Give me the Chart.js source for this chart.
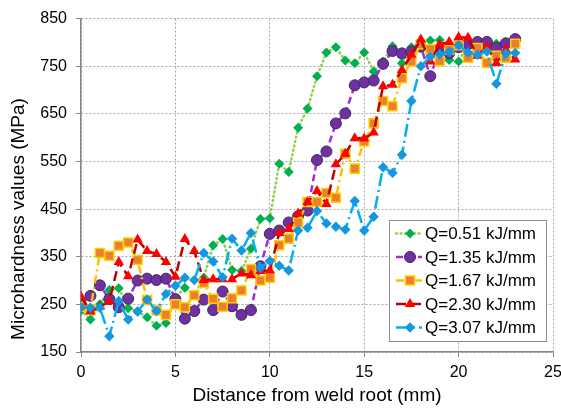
<!DOCTYPE html>
<html>
<head>
<meta charset="utf-8">
<script src="https://cdn.jsdelivr.net/npm/chart.js@4/dist/chart.umd.min.js"></script>
<style>
  html, body { margin: 0; padding: 0; background: #fff; }
  #wrap { width: 561px; height: 409px; }
</style>
</head>
<body>
<div id="wrap"><canvas id="hardnessChart" width="561" height="409"></canvas></div>
<script>
// distance from weld root (mm)
const distance = [0, 0.5, 1, 1.5, 2, 2.5, 3, 3.5, 4, 4.5, 5, 5.5, 6, 6.5, 7, 7.5, 8, 8.5, 9, 9.5,
  10, 10.5, 11, 11.5, 12, 12.5, 13, 13.5, 14, 14.5, 15, 15.5, 16, 16.5, 17, 17.5, 18, 18.5, 19, 19.5,
  20, 20.5, 21, 21.5, 22, 22.5, 23];

// microhardness (MPa) for each heat input
const q051 = [237, 218, 250, 280, 284, 242, 235, 223, 205, 211, 264, 285, 270, 306, 374, 387, 322, 320, 367, 429,
  431, 545, 528, 621, 661, 729, 779, 790, 762, 756, 779, 739, 760, 792, 756, 790, 801, 804, 805, 763,
  760, 798, 795, 790, 797, 801, 800];
const q135 = [250, 268, 290, 261, 244, 262, 300, 304, 301, 304, 261, 220, 236, 260, 238, 277, 246, 228, 238, 330,
  398, 405, 422, 435, 447, 553, 571, 630, 651, 710, 716, 720, 755, 782, 777, 781, 791, 729, 785, 777,
  790, 796, 801, 801, 789, 798, 807];
const q167 = [245, 240, 358, 352, 373, 380, 343, 259, 237, 228, 250, 244, 269, 295, 262, 245, 263, 279, 324, 300,
  306, 374, 388, 422, 465, 465, 484, 474, 566, 535, 592, 630, 677, 666, 725, 760, 796, 786, 761, 785,
  794, 768, 788, 757, 772, 768, 797];
const q230 = [266, 235, 245, 256, 339, 309, 386, 362, 356, 339, 308, 387, 362, 301, 303, 303, 303, 315, 311, 320,
  321, 400, 408, 441, 465, 488, 461, 544, 566, 599, 598, 611, 708, 711, 742, 774, 806, 760, 796, 801,
  811, 810, 772, 791, 757, 785, 764];
const q307 = [244, 243, 243, 183, 257, 218, 235, 260, 236, 272, 289, 306, 301, 358, 340, 307, 388, 363, 400, 327,
  341, 331, 321, 405, 411, 446, 420, 413, 407, 467, 405, 434, 538, 526, 564, 677, 750, 770, 775, 780,
  794, 779, 774, 781, 713, 777, 778];

const seriesNames = ['Q=0.51 kJ/mm', 'Q=1.35 kJ/mm', 'Q=1.67 kJ/mm', 'Q=2.30 kJ/mm', 'Q=3.07 kJ/mm'];
const xTicks = [0, 5, 10, 15, 20, 25];
const yTicks = [150, 250, 350, 450, 550, 650, 750, 850];
const xTitle = 'Distance from weld root (mm)';
const yTitle = 'Microhardness values (MPa)';

const FONT = '"Liberation Sans", Arial, sans-serif';

function pts(vals) {
    return vals.map((v, i) => ({ x: distance[i], y: v }));
}

const styles = [
    { line: '#92D050', dash: [1, 3.5], cap: 'round', fill: '#00B050', stroke: '#00B050', shape: 'rectRot', r: 5, bw: 0 },
    { line: '#9B30D9', dash: [7, 4], cap: 'butt', fill: '#7030A0', stroke: '#3D2A5C', shape: 'circle', r: 5.5, bw: 1 },
    { line: '#FFC000', dash: [8, 4, 2, 4], cap: 'butt', fill: '#ED7D31', stroke: '#FFD000', shape: 'rect', r: 6.4, bw: 1.5 },
    { line: '#C00000', dash: [10, 5], cap: 'butt', fill: '#FF0000', stroke: '#FF0000', shape: 'triangle', r: 6, bw: 0 },
    { line: '#00B0F0', dash: [13, 4, 2, 4], cap: 'butt', fill: '#1597DE', stroke: '#1597DE', shape: 'rectRot', r: 5.2, bw: 0 }
];

const seriesValues = [q051, q135, q167, q230, q307];

const datasets = seriesValues.map((vals, i) => ({
    label: seriesNames[i],
    data: pts(vals),
    borderColor: styles[i].line,
    borderWidth: 2.5,
    borderDash: styles[i].dash,
    borderCapStyle: styles[i].cap,
    backgroundColor: styles[i].fill,
    pointStyle: styles[i].shape,
    pointRadius: styles[i].r,
    pointBackgroundColor: styles[i].fill,
    pointBorderColor: styles[i].stroke,
    pointBorderWidth: styles[i].bw,
    tension: 0,
    fill: false,
    order: 5 - i // later series drawn on top, like the original
}));

function drawMarker(ctx, s, x, y) {
    ctx.fillStyle = s.fill;
    ctx.strokeStyle = s.stroke;
    ctx.lineWidth = s.bw;
    ctx.setLineDash([]);
    if (Chart.helpers && Chart.helpers.drawPoint) {
        Chart.helpers.drawPoint(ctx, { pointStyle: s.shape, rotation: 0, radius: s.r, borderWidth: s.bw }, x, y);
    } else {
        ctx.beginPath();
        ctx.arc(x, y, s.r, 0, Math.PI * 2);
        ctx.fill();
    }
}

// y title placed like the original and a boxed legend inside the plot
const overlay = {
    id: 'overlay',
    afterDraw(chart) {
        const ctx = chart.ctx;
        ctx.save();
        ctx.font = '19px ' + FONT;
        ctx.fillStyle = '#000';
        ctx.textAlign = 'center';
        ctx.textBaseline = 'middle';
        ctx.translate(19, 219);
        ctx.rotate(-Math.PI / 2);
        ctx.fillText(yTitle, 0, 0);
        ctx.restore();

        const bx = 389.5, by = 220.5, bw = 157, bh = 121;
        ctx.save();
        ctx.fillStyle = '#fff';
        ctx.fillRect(bx, by, bw, bh);
        ctx.strokeStyle = '#8c8c8c';
        ctx.lineWidth = 1;
        ctx.strokeRect(bx, by, bw, bh);
        seriesNames.forEach((name, i) => {
            const s = styles[i];
            const y = by + 13 + i * 23.5;
            ctx.beginPath();
            ctx.strokeStyle = s.line;
            ctx.lineWidth = 2.5;
            ctx.lineCap = s.cap;
            ctx.setLineDash(s.dash);
            ctx.moveTo(396, y);
            ctx.lineTo(422, y);
            ctx.stroke();
            drawMarker(ctx, s, 410, y);
            ctx.fillStyle = '#000';
            ctx.font = '17px ' + FONT;
            ctx.textAlign = 'left';
            ctx.textBaseline = 'middle';
            ctx.fillText(name, 425, y + 1);
        });
        ctx.restore();
    }
};

const ctx = document.getElementById('hardnessChart').getContext('2d');
new Chart(ctx, {
    type: 'line',
    data: { datasets: datasets },
    options: {
        responsive: false,
        animation: false,
        layout: { padding: { top: 15, right: 0, left: 0, bottom: 0 } },
        plugins: {
            legend: { display: false },
            tooltip: { enabled: false }
        },
        scales: {
            x: {
                type: 'linear',
                min: 0,
                max: 25,
                afterFit: s => { s.height = 57; s.paddingRight = 8; },
                afterBuildTicks: s => { s.ticks = xTicks.map(v => ({ value: v })); },
                ticks: { color: '#000', font: { size: 16, family: FONT }, padding: 6, maxRotation: 0 },
                grid: { color: '#a6a6a6', lineWidth: 1, tickLength: 5, tickColor: '#868686', tickBorderDash: [] },
                border: { color: '#868686', width: 1.5, dash: [2, 2] },
                title: { display: true, text: xTitle, color: '#000', font: { size: 19, family: FONT }, padding: { top: 0, bottom: 2 } }
            },
            y: {
                min: 150,
                max: 850,
                afterFit: s => { s.width = 81; },
                afterBuildTicks: s => { s.ticks = yTicks.map(v => ({ value: v })); },
                ticks: { color: '#000', font: { size: 16, family: FONT }, padding: 9 },
                grid: { color: '#a6a6a6', lineWidth: 1, tickLength: 5, tickColor: '#868686', tickBorderDash: [] },
                border: { color: '#868686', width: 1.5, dash: [2, 2] }
            }
        }
    },
    plugins: [overlay]
});
</script>
</body>
</html>
